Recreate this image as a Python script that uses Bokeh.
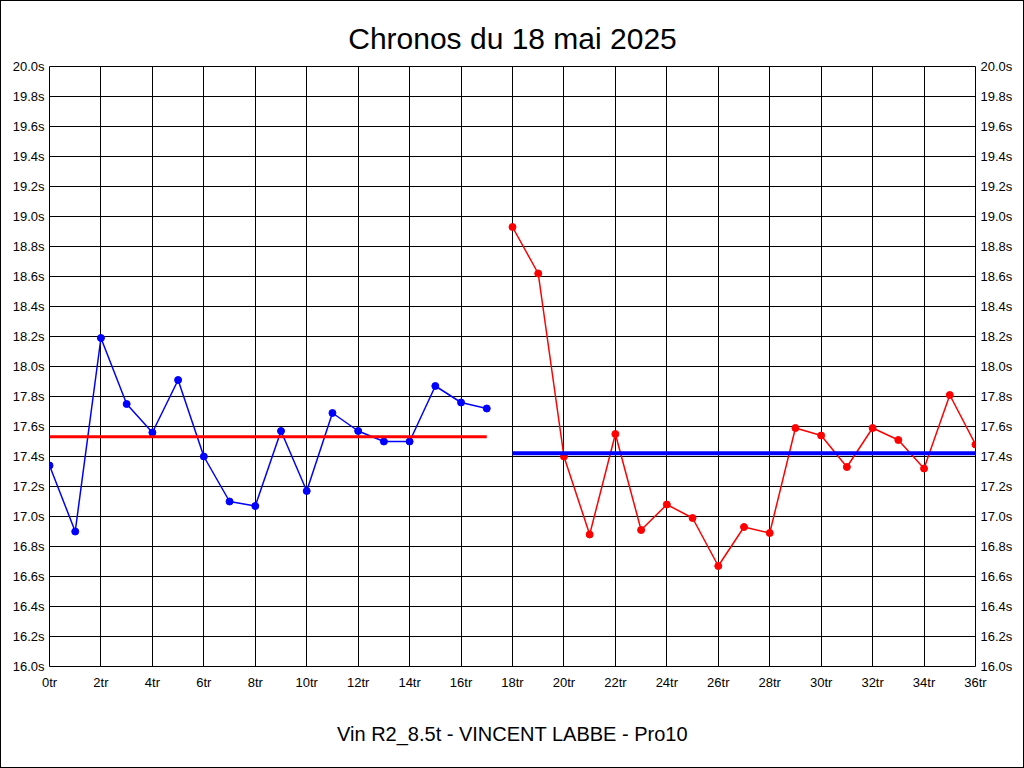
from bokeh.plotting import figure
from bokeh.models import LinearAxis, PrintfTickFormatter, SingleIntervalTicker, Range1d
from bokeh.embed import file_html
from bokeh.resources import INLINE

laps_a = list(range(0, 18))
times_a = [17.34, 16.90, 18.19, 17.75, 17.56, 17.91, 17.40, 17.10, 17.07,
           17.57, 17.17, 17.69, 17.57, 17.50, 17.50, 17.87, 17.76, 17.72]
laps_b = list(range(18, 37))
times_b = [18.93, 18.62, 17.40, 16.88, 17.55, 16.91, 17.08, 16.99, 16.67,
           16.93, 16.89, 17.59, 17.54, 17.33, 17.59, 17.51, 17.32, 17.81, 17.48]
mean_a = sum(times_a) / len(times_a)
mean_b = sum(times_b) / len(times_b)

title_text = "Chronos du 18 mai 2025"
xlabel_text = "Vin R2_8.5t - VINCENT LABBE - Pro10"

FONT = "Liberation Sans"

p = figure(frame_width=926, frame_height=600,
           x_range=Range1d(0, 36), y_range=Range1d(16, 20),
           output_backend="svg", toolbar_location=None,
           min_border_left=48, min_border_right=48,
           min_border_top=65, min_border_bottom=101,
           title=title_text)
p.styles = {"border": "1px solid black"}

p.title.align = "center"
p.title.vertical_align = "top"
p.title.text_font = FONT
p.title.text_font_size = "30px"
p.title.text_font_style = "normal"
p.title.text_color = "black"
p.title.standoff = 20

xt = SingleIntervalTicker(interval=2)
yt = SingleIntervalTicker(interval=0.2)
p.xaxis.ticker = xt
p.yaxis.ticker = yt
p.xgrid.ticker = xt
p.ygrid.ticker = yt
p.xaxis.formatter = PrintfTickFormatter(format="%dtr")
p.yaxis.formatter = PrintfTickFormatter(format="%.1fs")

right = LinearAxis(ticker=yt, formatter=PrintfTickFormatter(format="%.1fs"))
p.add_layout(right, "right")

for ax in [p.xaxis[0], p.yaxis[0], right]:
    ax.major_tick_out = 0
    ax.major_tick_in = 0
    ax.minor_tick_out = 0
    ax.minor_tick_in = 0
    ax.axis_line_color = None
    ax.major_label_text_font = FONT
    ax.major_label_text_font_size = "13px"
    ax.major_label_text_color = "black"
    ax.major_label_standoff = 5
p.xaxis.major_label_standoff = 8

p.xaxis.axis_label = xlabel_text
p.xaxis.axis_label_text_font = FONT
p.xaxis.axis_label_text_font_size = "20px"
p.xaxis.axis_label_text_font_style = "normal"
p.xaxis.axis_label_text_color = "black"
p.xaxis.axis_label_standoff = 30

for g in [p.xgrid[0], p.ygrid[0]]:
    g.grid_line_color = "black"
    g.grid_line_alpha = 1.0
    g.grid_line_width = 1

p.outline_line_color = "black"
p.outline_line_alpha = 1.0
p.outline_line_width = 1

p.line(laps_a, times_a, line_color="#0000ff", line_width=1.5)
p.scatter(laps_a, times_a, size=7, fill_color="#0000ff", line_color="#0000ff")
p.line(laps_b, times_b, line_color="#ff0000", line_width=1.5)
p.scatter(laps_b, times_b, size=7, fill_color="#ff0000", line_color="#ff0000")

p.line([laps_a[0], laps_a[-1]], [mean_a, mean_a], line_color="#ff0000", line_width=3)
p.line([laps_b[0], laps_b[-1]], [mean_b, mean_b], line_color="#0000ff", line_width=4)

open("out.html", "w").write(file_html(p, INLINE))
